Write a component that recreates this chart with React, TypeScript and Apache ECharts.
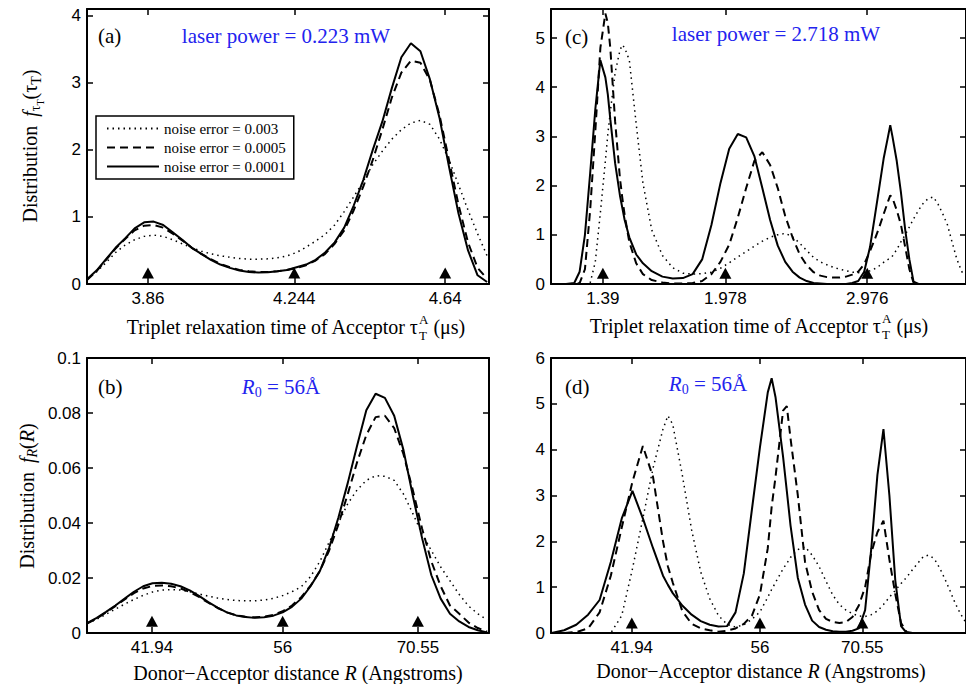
import React, { useEffect, useRef } from 'react';
import * as echarts from 'echarts';

// ---------- Panel (a): laser power 0.223 mW, tau_T (us) ----------
const tauLowPower = [3.700, 3.725, 3.750, 3.775, 3.800, 3.825, 3.850, 3.875, 3.900, 3.925, 3.950, 3.975, 4.000, 4.025, 4.050, 4.075, 4.100, 4.125, 4.150, 4.175, 4.200, 4.225, 4.250, 4.275, 4.300, 4.325, 4.350, 4.375, 4.400, 4.425, 4.450, 4.475, 4.500, 4.525, 4.550, 4.575, 4.600, 4.625, 4.650, 4.675, 4.700, 4.725, 4.750];
const aNoise003 = [0.08, 0.18, 0.32, 0.47, 0.58, 0.66, 0.71, 0.73, 0.71, 0.66, 0.60, 0.54, 0.49, 0.45, 0.42, 0.40, 0.38, 0.37, 0.37, 0.375, 0.39, 0.42, 0.47, 0.55, 0.64, 0.74, 0.88, 1.08, 1.30, 1.53, 1.78, 1.98, 2.16, 2.30, 2.40, 2.44, 2.38, 2.16, 1.85, 1.48, 1.10, 0.75, 0.42];
const aNoise0005 = [0.06, 0.19, 0.36, 0.53, 0.67, 0.80, 0.87, 0.88, 0.84, 0.75, 0.65, 0.54, 0.45, 0.37, 0.30, 0.25, 0.21, 0.19, 0.18, 0.18, 0.19, 0.21, 0.24, 0.28, 0.35, 0.45, 0.60, 0.80, 1.10, 1.45, 1.85, 2.30, 2.78, 3.15, 3.33, 3.30, 3.04, 2.52, 1.85, 1.18, 0.62, 0.24, 0.08];
const aNoise0001 = [0.07, 0.20, 0.37, 0.54, 0.68, 0.83, 0.92, 0.93, 0.88, 0.77, 0.66, 0.54, 0.45, 0.36, 0.29, 0.24, 0.20, 0.18, 0.17, 0.175, 0.19, 0.21, 0.25, 0.29, 0.36, 0.47, 0.62, 0.84, 1.17, 1.55, 2.00, 2.42, 2.92, 3.38, 3.59, 3.47, 3.05, 2.48, 1.75, 1.05, 0.50, 0.13, 0.03];
const aTicks = [3.86, 4.244, 4.64];
const aTickLabels = ['3.86', '4.244', '4.64'];
const aYTicks = [0, 1, 2, 3, 4];

// ---------- Panel (b): distance R (Angstroms), low power ----------
const rLowPower = [35, 36, 37, 38, 39, 40, 41, 42, 43, 44, 45, 46, 47, 48, 49, 50, 51, 52, 53, 54, 55, 56, 57, 58, 59, 60, 61, 62, 63, 64, 65, 66, 67, 68, 69, 70, 71, 72, 73, 74, 75, 76, 77, 78];
const bNoise003 = [0.0035, 0.0050, 0.0068, 0.0087, 0.0105, 0.0122, 0.0137, 0.0149, 0.0156, 0.0158, 0.0156, 0.0150, 0.0142, 0.0134, 0.0127, 0.0122, 0.0118, 0.0117, 0.0117, 0.0120, 0.0126, 0.0136, 0.0150, 0.0168, 0.0205, 0.0260, 0.0330, 0.0400, 0.0470, 0.0520, 0.0555, 0.0572, 0.0570, 0.0555, 0.0505, 0.0435, 0.0360, 0.0300, 0.0240, 0.0190, 0.0140, 0.0098, 0.0070, 0.0048];
const bNoise0005 = [0.0035, 0.0053, 0.0075, 0.0098, 0.0122, 0.0145, 0.0162, 0.0171, 0.0173, 0.0170, 0.0162, 0.0149, 0.0131, 0.0110, 0.0091, 0.0075, 0.0064, 0.0059, 0.0057, 0.0059, 0.0066, 0.0079, 0.0100, 0.0130, 0.0172, 0.0225, 0.0300, 0.0395, 0.0505, 0.0620, 0.0720, 0.0785, 0.0790, 0.0745, 0.0650, 0.0520, 0.0380, 0.0260, 0.0170, 0.0100, 0.0070, 0.0038, 0.0018, 0.0005];
const bNoise0001 = [0.0037, 0.0055, 0.0077, 0.0100, 0.0125, 0.0150, 0.0170, 0.0181, 0.0183, 0.0179, 0.0170, 0.0155, 0.0135, 0.0112, 0.0092, 0.0075, 0.0064, 0.0058, 0.0055, 0.0057, 0.0063, 0.0075, 0.0095, 0.0125, 0.0170, 0.0225, 0.0310, 0.0420, 0.0545, 0.0680, 0.0810, 0.0870, 0.0855, 0.0790, 0.0665, 0.0500, 0.0345, 0.0210, 0.0125, 0.0070, 0.0042, 0.0022, 0.0010, 0.0002];
const rTicks = [41.94, 56, 70.55];
const rTickLabels = ['41.94', '56', '70.55'];
const bYTicks = [0, 0.02, 0.04, 0.06, 0.08, 0.1];

// ---------- Panel (c): laser power 2.718 mW, tau_T (us), log spaced ----------
const tauHighPower = [1.20, 1.25, 1.28, 1.30, 1.32, 1.34, 1.36, 1.38, 1.40, 1.41, 1.42, 1.44, 1.46, 1.47, 1.48, 1.50, 1.53, 1.56, 1.60, 1.65, 1.70, 1.75, 1.80, 1.85, 1.90, 1.95, 2.00, 2.05, 2.10, 2.15, 2.20, 2.25, 2.30, 2.35, 2.40, 2.45, 2.50, 2.55, 2.60, 2.65, 2.70, 2.75, 2.80, 2.85, 2.90, 2.95, 3.00, 3.04, 3.08, 3.12, 3.16, 3.18, 3.20, 3.24, 3.28, 3.32, 3.36, 3.40, 3.45, 3.50, 3.55, 3.60, 3.65, 3.70, 3.75, 3.80, 3.85, 3.90, 3.93];
const cNoise003 = [0, 0, 0, 0, 0, 0.02, 0.45, 1.45, 2.5, 3.05, 3.5, 4.3, 4.75, 4.86, 4.8, 4.55, 3.25, 2.05, 1.1, 0.58, 0.33, 0.22, 0.2, 0.21, 0.24, 0.32, 0.43, 0.55, 0.66, 0.77, 0.87, 0.95, 1.0, 1.03, 0.96, 0.83, 0.68, 0.54, 0.45, 0.39, 0.34, 0.30, 0.27, 0.24, 0.23, 0.24, 0.27, 0.31, 0.37, 0.44, 0.5, 0.53, 0.57, 0.7, 0.86, 1.0, 1.16, 1.32, 1.5, 1.65, 1.74, 1.77, 1.62, 1.42, 1.2, 0.85, 0.52, 0.28, 0.18];
const cNoise0005 = [0, 0, 0, 0.02, 0.3, 1.5, 3.1, 4.8, 5.5, 5.3, 4.8, 3.3, 2.15, 1.75, 1.4, 0.85, 0.42, 0.2, 0.08, 0.03, 0.01, 0.01, 0.02, 0.06, 0.2, 0.45, 0.8, 1.35, 1.95, 2.5, 2.68, 2.42, 1.95, 1.38, 0.95, 0.6, 0.38, 0.24, 0.17, 0.14, 0.13, 0.13, 0.15, 0.19, 0.25, 0.4, 0.67, 0.9, 1.15, 1.42, 1.68, 1.8, 1.75, 1.5, 1.2, 0.75, 0.3, 0.03, 0, 0, 0, 0, 0, 0, 0, 0, 0, 0, 0];
const cNoise0001 = [0, 0, 0.02, 0.25, 1.0, 2.25, 3.55, 4.55, 4.2, 3.85, 3.35, 2.45, 1.8, 1.55, 1.3, 0.95, 0.6, 0.42, 0.26, 0.15, 0.11, 0.12, 0.2, 0.5, 1.2, 2.05, 2.75, 3.05, 2.98, 2.6, 1.95, 1.3, 0.78, 0.45, 0.25, 0.13, 0.06, 0.02, 0.01, 0, 0, 0, 0, 0.02, 0.06, 0.25, 0.75, 1.35, 1.95, 2.55, 3.0, 3.23, 3.0, 2.5, 1.85, 1.1, 0.5, 0.05, 0, 0, 0, 0, 0, 0, 0, 0, 0, 0, 0];
const cTicks = [1.39, 1.978, 2.976];
const cTickLabels = ['1.39', '1.978', '2.976'];
const cYTicks = [0, 1, 2, 3, 4, 5];

// ---------- Panel (d): distance R (Angstroms), high power, log spaced ----------
const rHighPower = [35, 36, 37, 38, 39, 40, 41, 42, 43, 44, 45, 45.5, 46, 47, 48, 49, 50, 51, 52, 53, 54, 55, 56, 57, 57.5, 58, 59, 59.5, 60, 61, 62, 63, 64, 65, 66, 67, 68, 69, 70, 71, 72, 73, 74, 75, 76, 77, 78, 79, 80, 81, 82, 83, 84, 85, 86, 87, 88, 89];
const dNoise003 = [0, 0, 0, 0, 0, 0, 0.38, 1.4, 2.5, 3.6, 4.45, 4.74, 4.55, 3.45, 2.25, 1.33, 0.75, 0.38, 0.19, 0.13, 0.18, 0.3, 0.46, 0.78, 0.95, 1.1, 1.4, 1.52, 1.65, 1.82, 1.88, 1.7, 1.45, 1.13, 0.83, 0.62, 0.5, 0.42, 0.37, 0.36, 0.4, 0.48, 0.62, 0.78, 0.93, 1.08, 1.22, 1.38, 1.53, 1.67, 1.7, 1.62, 1.42, 1.18, 0.92, 0.65, 0.43, 0.25];
const dNoise0005 = [0, 0, 0.02, 0.1, 0.45, 1.25, 2.3, 3.3, 4.08, 3.4, 2.0, 1.45, 1.1, 0.48, 0.2, 0.1, 0.06, 0.03, 0.05, 0.1, 0.2, 0.38, 0.84, 1.85, 2.75, 3.4, 4.85, 4.95, 4.25, 3.0, 1.55, 0.9, 0.5, 0.31, 0.24, 0.22, 0.24, 0.35, 0.6, 1.0, 1.75, 2.2, 2.45, 1.6, 0.85, 0.22, 0.02, 0, 0, 0, 0, 0, 0, 0, 0, 0, 0, 0];
const dNoise0001 = [0, 0.06, 0.18, 0.4, 0.72, 1.55, 2.5, 3.1, 2.5, 1.85, 1.25, 1.05, 0.87, 0.6, 0.4, 0.26, 0.18, 0.14, 0.15, 0.45, 1.3, 2.7, 4.05, 5.25, 5.56, 5.15, 3.85, 3.1, 2.35, 1.2, 0.62, 0.27, 0.13, 0.07, 0.04, 0.03, 0.03, 0.05, 0.1, 0.5, 1.85, 3.45, 4.45, 3.0, 1.15, 0.15, 0, 0, 0, 0, 0, 0, 0, 0, 0, 0, 0, 0];
const dYTicks = [0, 1, 2, 3, 4, 5, 6];

const SERIES_NAMES = ['noise error = 0.003', 'noise error = 0.0005', 'noise error = 0.0001'];

const SERIF = 'Liberation Serif';
const SANS = 'Liberation Sans';
const BLUE = '#2323ee';

type Piece = { t: string; size: number; italic?: boolean; dy?: number; stack?: boolean };

export default function App() {
  const ref = useRef<HTMLDivElement>(null);

  useEffect(() => {
    if (!ref.current) return;
    const chart = echarts.init(ref.current, null, { renderer: 'svg' });
    const canvas = document.createElement('canvas');
    const ctx = canvas.getContext('2d')!;

    const build = (pieces: Piece[], color: string, x: number, y: number, rotation = 0, anchor: 'center' | 'left' = 'center') => {
      let cx = 0;
      let stackStart: number | null = null;
      let stackW = 0;
      const items: { p: Piece; x: number }[] = [];
      pieces.forEach((p) => {
        ctx.font = `${p.italic ? 'italic ' : ''}${p.size}px "${SERIF}"`;
        const w = ctx.measureText(p.t).width;
        if (p.stack) {
          items.push({ p, x: cx });
          stackStart = cx;
          stackW = w;
        } else if (stackStart !== null) {
          items.push({ p, x: stackStart });
          cx = stackStart + Math.max(stackW, w);
          stackStart = null;
        } else {
          items.push({ p, x: cx });
          cx += w;
        }
      });
      const total = cx;
      const off = anchor === 'center' ? -total / 2 : 0;
      return {
        type: 'group',
        x,
        y,
        rotation,
        silent: true,
        children: items.map((it) => ({
          type: 'text',
          x: it.x + off,
          y: it.p.dy || 0,
          style: {
            text: it.p.t,
            fontSize: it.p.size,
            fontFamily: SERIF,
            fontStyle: it.p.italic ? 'italic' : 'normal',
            fill: color,
            align: 'left',
            verticalAlign: 'middle',
          },
        })),
      };
    };

    const lineStyles = [
      { color: '#000', width: 1.5, type: [1.5, 4] },
      { color: '#000', width: 2, type: [8, 5] },
      { color: '#000', width: 2, type: 'solid' },
    ];

    const panels = [
      { grid: { left: 87, top: 9, width: 402, height: 275 }, log: false, xmin: 3.70, xmax: 4.755, x: tauLowPower, ys: [aNoise003, aNoise0005, aNoise0001], ticks: aTicks, tickLabels: aTickLabels, ymax: 4.1, yTicks: aYTicks, markY: 0.165 },
      { grid: { left: 87, top: 358, width: 402, height: 275 }, log: false, xmin: 34.95, xmax: 78.2, x: rLowPower, ys: [bNoise003, bNoise0005, bNoise0001], ticks: rTicks, tickLabels: rTickLabels, ymax: 0.1, yTicks: bYTicks, markY: 0.0043 },
      { grid: { left: 551, top: 9, width: 416, height: 275 }, log: true, xmin: 1.1971, xmax: 3.9551, x: tauHighPower, ys: [cNoise003, cNoise0005, cNoise0001], ticks: cTicks, tickLabels: cTickLabels, ymax: 5.59, yTicks: cYTicks, markY: 0.22 },
      { grid: { left: 551, top: 358, width: 416, height: 275 }, log: true, xmin: 34.95, xmax: 89.15, x: rHighPower, ys: [dNoise003, dNoise0005, dNoise0001], ticks: rTicks, tickLabels: rTickLabels, ymax: 6, yTicks: dYTicks, markY: 0.22 },
    ];

    const axisLine = { show: true, onZero: false, lineStyle: { color: '#000', width: 2 } };
    const tickStyle = { color: '#000', width: 1.5 };
    const grids: any[] = [];
    const xAxes: any[] = [];
    const yAxes: any[] = [];
    const series: any[] = [];

    panels.forEach((p, gi) => {
      const tx = (v: number) => (p.log ? Math.log(v) : v);
      const tickPos = p.ticks.map(tx);
      grids.push({ ...p.grid, show: false });
      const xLabelFmt = (v: number) => {
        let best = 0;
        tickPos.forEach((t, i) => { if (Math.abs(t - v) < Math.abs(tickPos[best] - v)) best = i; });
        return p.tickLabels[best];
      };
      ['bottom', 'top'].forEach((pos) => {
        xAxes.push({
          gridIndex: gi, type: 'value', position: pos, min: tx(p.xmin), max: tx(p.xmax),
          axisLine, splitLine: { show: false },
          axisTick: { show: true, inside: true, length: 6, customValues: tickPos, lineStyle: tickStyle },
          axisLabel: {
            show: pos === 'bottom', customValues: tickPos, formatter: xLabelFmt,
            color: '#000', fontFamily: SANS, fontSize: 17, margin: 6,
          },
        });
      });
      ['left', 'right'].forEach((pos) => {
        yAxes.push({
          gridIndex: gi, type: 'value', position: pos, min: 0, max: p.ymax,
          axisLine, splitLine: { show: false },
          axisTick: { show: true, inside: true, length: 6, customValues: p.yTicks, lineStyle: tickStyle },
          axisLabel: {
            show: pos === 'left', customValues: p.yTicks,
            formatter: (v: number) => `${parseFloat(Number(v).toFixed(4))}`,
            color: '#000', fontFamily: SANS, fontSize: 17, margin: 6,
          },
        });
      });
      p.ys.forEach((ys, si) => {
        series.push({
          type: 'line', name: SERIES_NAMES[si], xAxisIndex: gi * 2, yAxisIndex: gi * 2,
          data: p.x.map((v, j) => [tx(v), ys[j]]), symbol: 'none', showSymbol: false,
          lineStyle: lineStyles[si], itemStyle: { color: '#000' }, z: 2 + si, silent: true,
        });
      });
      series.push({
        type: 'scatter', name: 'true value', xAxisIndex: gi * 2, yAxisIndex: gi * 2,
        data: p.ticks.map((v) => [tx(v), p.markY]), symbol: 'triangle', symbolSize: [12, 11],
        itemStyle: { color: '#000', opacity: 1 }, z: 6, silent: true,
      });
    });

    const graphic: any[] = [
      // x-axis titles
      build([{ t: 'Triplet relaxation time of Acceptor τ', size: 20 }, { t: 'A', size: 13, dy: -8, stack: true }, { t: 'T', size: 13, dy: 8 }, { t: ' (μs)', size: 20 }], '#000', 296, 327),
      build([{ t: 'Triplet relaxation time of Acceptor τ', size: 20 }, { t: 'A', size: 13, dy: -8, stack: true }, { t: 'T', size: 13, dy: 8 }, { t: ' (μs)', size: 20 }], '#000', 759, 326),
      build([{ t: 'Donor−Acceptor distance ', size: 20 }, { t: 'R', size: 20, italic: true }, { t: ' (Angstroms)', size: 20 }], '#000', 298, 673),
      build([{ t: 'Donor−Acceptor distance ', size: 20 }, { t: 'R', size: 20, italic: true }, { t: ' (Angstroms)', size: 20 }], '#000', 761, 671),
      // y-axis titles (rotated)
      build([{ t: 'Distribution \u2009', size: 20 }, { t: 'f', size: 20, italic: true }, { t: 'τ', size: 14, dy: 5 }, { t: 'T', size: 10, dy: 10 }, { t: '(τ', size: 20 }, { t: 'T', size: 14, dy: 6 }, { t: ')', size: 20 }], '#000', 30, 146, Math.PI / 2),
      build([{ t: 'Distribution \u2009', size: 20 }, { t: 'f', size: 20, italic: true }, { t: 'R', size: 14, italic: true, dy: 5 }, { t: '(', size: 20 }, { t: 'R', size: 20, italic: true }, { t: ')', size: 20 }], '#000', 27, 496, Math.PI / 2),
      // panel letters
      build([{ t: '(a)', size: 21 }], '#000', 98, 36, 0, 'left'),
      build([{ t: '(b)', size: 21 }], '#000', 98, 387, 0, 'left'),
      build([{ t: '(c)', size: 21 }], '#000', 565, 37, 0, 'left'),
      build([{ t: '(d)', size: 21 }], '#000', 565, 387, 0, 'left'),
      // blue annotations
      build([{ t: 'laser power = 0.223 mW', size: 21 }], BLUE, 286, 36),
      build([{ t: 'laser power = 2.718 mW', size: 21 }], BLUE, 776, 34),
      build([{ t: 'R', size: 21, italic: true }, { t: '0', size: 14, dy: 5 }, { t: ' = 56Å', size: 21 }], BLUE, 281, 387),
      build([{ t: 'R', size: 21, italic: true }, { t: '0', size: 14, dy: 5 }, { t: ' = 56Å', size: 21 }], BLUE, 708, 384),
    ];

    chart.setOption({
      animation: false,
      backgroundColor: '#fff',
      grid: grids,
      xAxis: xAxes,
      yAxis: yAxes,
      series,
      legend: {
        data: SERIES_NAMES, orient: 'vertical', left: 96, top: 116,
        padding: [5, 8, 5, 10], itemWidth: 52, itemHeight: 14, itemGap: 4,
        borderColor: '#000', borderWidth: 1.5, backgroundColor: '#fff',
        itemStyle: { opacity: 0, borderWidth: 0 },
        textStyle: { fontFamily: SERIF, fontSize: 15, color: '#000' },
        selectedMode: false, z: 10,
      },
      graphic,
    });

    return () => chart.dispose();
  }, []);

  return <div ref={ref} style={{ position: 'fixed', left: 0, top: 0, width: 966, height: 684, background: '#fff' }} />;
}
